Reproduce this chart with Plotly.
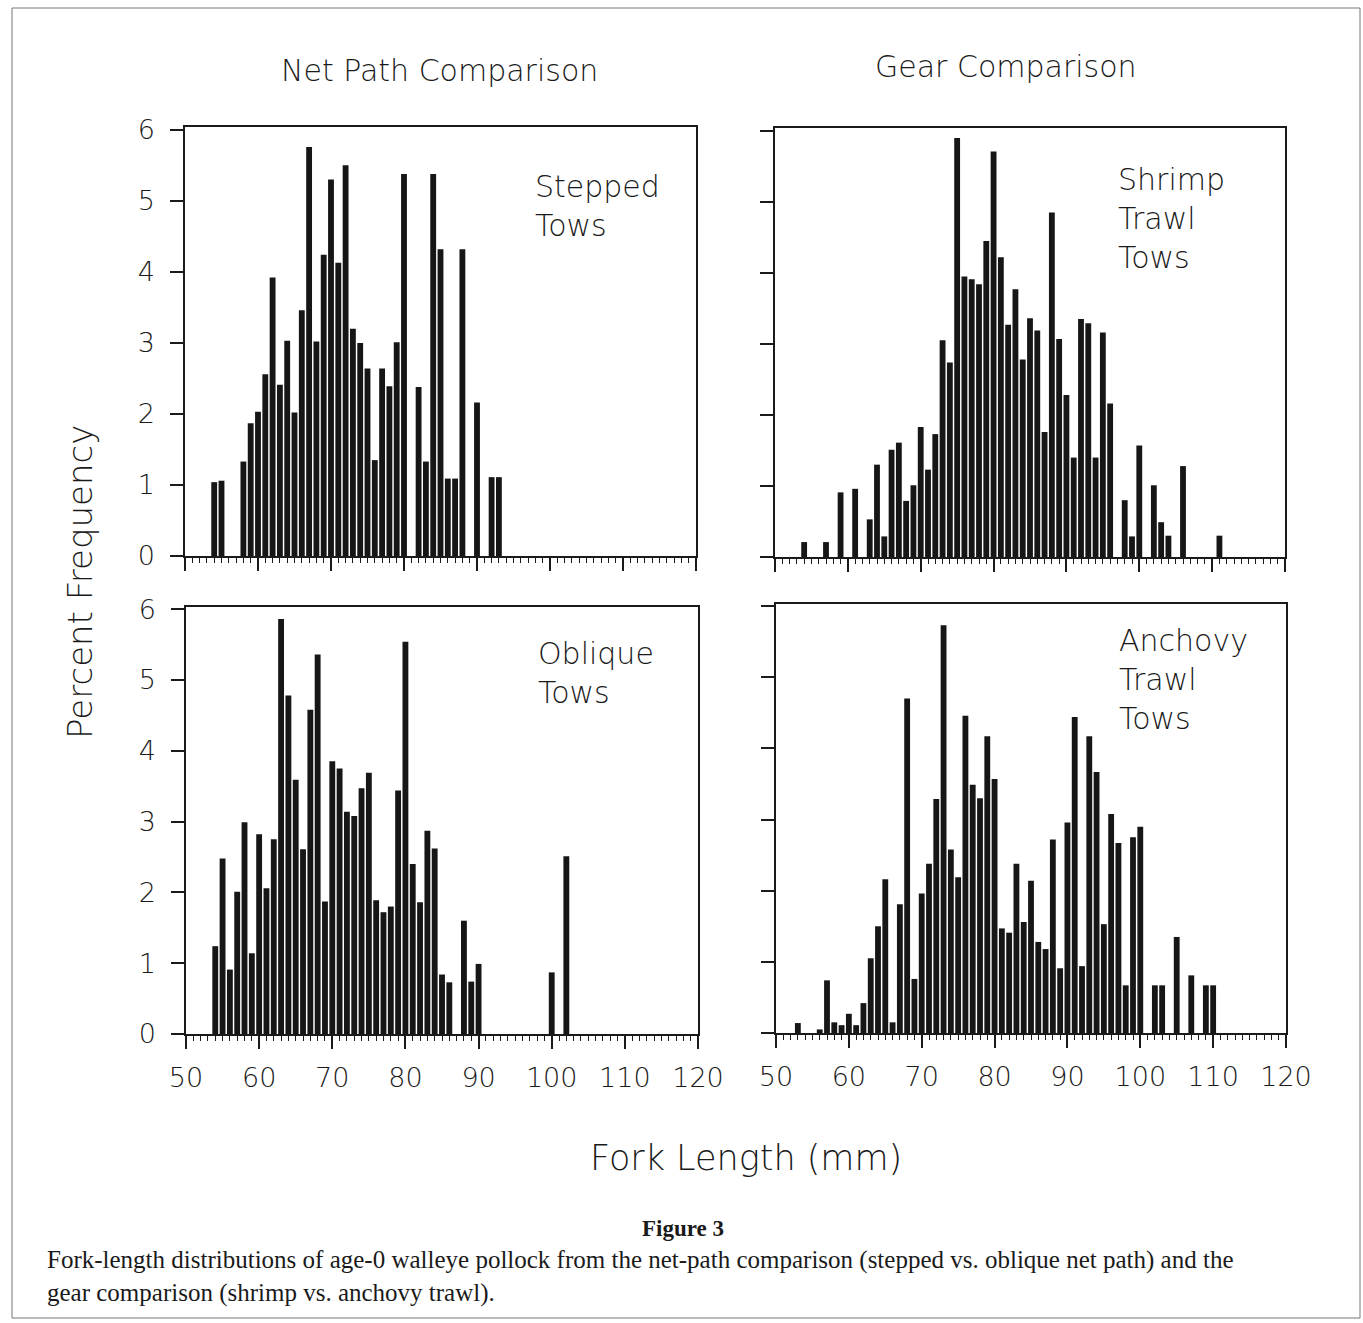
import plotly.graph_objects as go

# ---------------- data (fork length mm -> percent frequency) ----------------
stepped_len = [54, 55, 58, 59, 60, 61, 62, 63, 64, 65, 66, 67, 68, 69, 70, 71, 72, 73, 74, 75,
               76, 77, 78, 79, 80, 82, 83, 84, 85, 86, 87, 88, 90, 92, 93]
stepped_pct = [1.04, 1.06, 1.33, 1.87, 2.03, 2.56, 3.92, 2.41, 3.03, 2.02, 3.46, 5.76, 3.02, 4.24,
               5.30, 4.13, 5.50, 3.20, 3.00, 2.64, 1.35, 2.64, 2.39, 3.01, 5.38, 2.38, 1.33, 5.38,
               4.32, 1.09, 1.09, 4.32, 2.16, 1.11, 1.11]

oblique_len = [54, 55, 56, 57, 58, 59, 60, 61, 62, 63, 64, 65, 66, 67, 68, 69, 70, 71, 72, 73,
               74, 75, 76, 77, 78, 79, 80, 81, 82, 83, 84, 85, 86, 88, 89, 90, 100, 102]
oblique_pct = [1.24, 2.48, 0.91, 2.01, 2.99, 1.14, 2.82, 2.06, 2.75, 5.86, 4.78, 3.59, 2.61, 4.58,
               5.36, 1.87, 3.85, 3.75, 3.14, 3.08, 3.47, 3.69, 1.89, 1.72, 1.80, 3.44, 5.54, 2.40,
               1.86, 2.87, 2.62, 0.84, 0.73, 1.60, 0.74, 0.99, 0.87, 2.51]

shrimp_len = [54, 57, 59, 61, 63, 64, 65, 66, 67, 68, 69, 70, 71, 72, 73, 74, 75, 76, 77, 78,
              79, 80, 81, 82, 83, 84, 85, 86, 87, 88, 89, 90, 91, 92, 93, 94, 95, 96, 98, 99,
              100, 102, 103, 104, 106, 111]
shrimp_pct = [0.21, 0.21, 0.91, 0.96, 0.53, 1.30, 0.29, 1.51, 1.61, 0.79, 1.01, 1.83, 1.23, 1.73,
              3.05, 2.74, 5.90, 3.95, 3.91, 3.84, 4.45, 5.71, 4.22, 3.27, 3.77, 2.78, 3.36, 3.19,
              1.76, 4.85, 3.07, 2.28, 1.40, 3.35, 3.29, 1.40, 3.16, 2.16, 0.80, 0.29, 1.57, 1.01,
              0.49, 0.30, 1.28, 0.30]

anchovy_len = [53, 56, 57, 58, 59, 60, 61, 62, 63, 64, 65, 66, 67, 68, 69, 70, 71, 72, 73, 74,
               75, 76, 77, 78, 79, 80, 81, 82, 83, 84, 85, 86, 87, 88, 89, 90, 91, 92, 93, 94,
               95, 96, 97, 98, 99, 100, 102, 103, 105, 107, 109, 110]
anchovy_pct = [0.14, 0.05, 0.74, 0.15, 0.11, 0.27, 0.11, 0.42, 1.05, 1.50, 2.16, 0.15, 1.81, 4.70,
               0.76, 1.96, 2.38, 3.29, 5.73, 2.58, 2.19, 4.46, 3.49, 3.30, 4.17, 3.57, 1.47, 1.41,
               2.38, 1.56, 2.14, 1.28, 1.18, 2.72, 0.91, 2.96, 4.44, 0.94, 4.17, 3.67, 1.53, 3.08,
               2.67, 0.67, 2.75, 2.90, 0.67, 0.67, 1.35, 0.81, 0.67, 0.67]

x_ticks = [50, 60, 70, 80, 90, 100, 110, 120]
y_ticks = [0, 1, 2, 3, 4, 5, 6]

column_titles = ["Net Path Comparison", "Gear Comparison"]
panel_labels = ["Stepped<br>Tows", "Shrimp<br>Trawl<br>Tows", "Oblique<br>Tows", "Anchovy<br>Trawl<br>Tows"]

# ---------------- layout helpers ----------------
W, H = 1363, 1323
FONT = "DejaVu Sans"
INK = "#1a1a1a"


def fx(p):
    return p / W


def fy(p):
    return 1 - p / H


fig = go.Figure()

series = [
    (stepped_len, stepped_pct, "x", "y"),
    (shrimp_len, shrimp_pct, "x2", "y2"),
    (oblique_len, oblique_pct, "x3", "y3"),
    (anchovy_len, anchovy_pct, "x4", "y4"),
]
for xs, ys, xa, ya in series:
    fig.add_trace(go.Bar(x=xs, y=ys, xaxis=xa, yaxis=ya, width=0.8,
                         marker=dict(color="#161616", line=dict(width=0)),
                         showlegend=False, hoverinfo="x+y"))

# pixel boxes: (x50, x120, y0, ytop_pixel, ytop_value)
boxes = [
    (185, 696, 556, 127, 6.04),
    (775, 1285, 557, 128, 6.04),
    (186, 698, 1034, 607, 6.03),
    (776, 1286, 1033, 604, 6.03),
]

for i, (x0, x1, y0, yt, ytv) in enumerate(boxes):
    n = "" if i == 0 else str(i + 1)
    bottom = i >= 2
    left = i % 2 == 0
    fig.layout["xaxis" + n] = dict(
        domain=[fx(x0), fx(x1)], range=[50, 120], anchor="y" + n, automargin=False,
        tickvals=x_ticks, showticklabels=bottom, ticks="outside", ticklen=13, tickwidth=1.5,
        tickcolor=INK, showline=True, linecolor=INK, linewidth=1.5, mirror=True,
        showgrid=False, zeroline=False,
        minor=dict(dtick=1, tick0=50, ticks="outside", ticklen=5, tickwidth=1, tickcolor=INK, showgrid=False),
        tickfont=dict(family=FONT, size=27, color=INK, weight=300), ticklabelstandoff=6,
    )
    fig.layout["yaxis" + n] = dict(
        domain=[fy(y0), fy(yt)], range=[0, ytv], anchor="x" + n, automargin=False,
        tickvals=y_ticks, showticklabels=left, ticks="outside", ticklen=13, tickwidth=1.5,
        tickcolor=INK, showline=True, linecolor=INK, linewidth=1.5, mirror=True,
        showgrid=False, zeroline=False,
        tickfont=dict(family=FONT, size=27, color=INK, weight=300), ticklabelstandoff=10,
    )

annotations = []
# column titles
annotations.append(dict(text=column_titles[0], x=fx(440), y=fy(70), xref="paper", yref="paper",
                        xanchor="center", yanchor="middle", showarrow=False,
                        font=dict(family=FONT, size=30, color=INK, weight=300)))
annotations.append(dict(text=column_titles[1], x=fx(1006), y=fy(67), xref="paper", yref="paper",
                        xanchor="center", yanchor="middle", showarrow=False,
                        font=dict(family=FONT, size=30, color=INK, weight=300)))
# panel labels
label_pos = [(533, 167), (1116, 160), (536, 634), (1117, 621)]
for (lx, ly), txt in zip(label_pos, panel_labels):
    annotations.append(dict(text=txt, x=fx(lx), y=fy(ly), xref="paper", yref="paper",
                            xanchor="left", yanchor="top", align="left", showarrow=False,
                            font=dict(family=FONT, size=30, color=INK, weight=300)))
# axis titles
annotations.append(dict(text="Percent Frequency", x=fx(80), y=fy(582), xref="paper", yref="paper",
                        xanchor="center", yanchor="middle", textangle=-90, showarrow=False,
                        font=dict(family=FONT, size=34, color=INK, weight=300)))
annotations.append(dict(text="Fork Length (mm)", x=fx(746), y=fy(1158), xref="paper", yref="paper",
                        xanchor="center", yanchor="middle", showarrow=False,
                        font=dict(family=FONT, size=35, color=INK, weight=300)))
# caption
annotations.append(dict(text="<b>Figure 3</b>", x=fx(683), y=fy(1228), xref="paper", yref="paper",
                        xanchor="center", yanchor="middle", showarrow=False,
                        font=dict(family="Liberation Serif", size=23, color=INK)))
annotations.append(dict(
    text=("Fork-length distributions of age-0 walleye pollock from the net-path comparison "
          "(stepped vs. oblique net path) and the<br>gear comparison (shrimp vs. anchovy trawl)."),
    x=fx(45), y=fy(1244), xref="paper", yref="paper", xanchor="left", yanchor="top", align="left",
    showarrow=False, font=dict(family="Liberation Serif", size=25, color=INK)))

fig.update_layout(
    width=W, height=H, margin=dict(l=0, r=0, t=0, b=0, autoexpand=False),
    paper_bgcolor="white", plot_bgcolor="white",
    annotations=annotations, bargap=0.2, showlegend=False,
    shapes=[dict(type="rect", xref="paper", yref="paper", x0=fx(12), x1=fx(1360), y0=fy(1318), y1=fy(8),
                 line=dict(color="#777", width=1))],
)

fig.write_html("out.html")
